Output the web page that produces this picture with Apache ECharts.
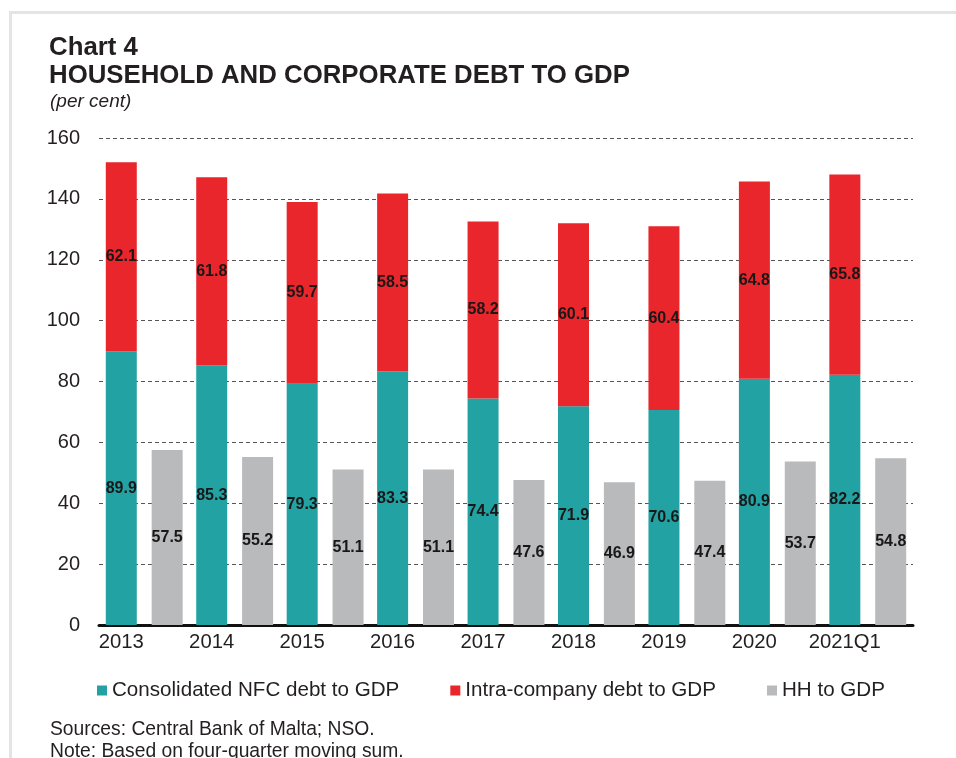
<!DOCTYPE html>
<html>
<head>
<meta charset="utf-8">
<script src="https://cdn.jsdelivr.net/npm/echarts@6/dist/echarts.min.js"></script>
<style>
html,body{margin:0;padding:0;background:#fff;}
#c{width:956px;height:758px;}
</style>
</head>
<body>
<div id="c"></div>
<script>
const categories = ['2013','2014','2015','2016','2017','2018','2019','2020','2021Q1'];
const nfcDebt = [89.9, 85.3, 79.3, 83.3, 74.4, 71.9, 70.6, 80.9, 82.2];
const intraDebt = [62.1, 61.8, 59.7, 58.5, 58.2, 60.1, 60.4, 64.8, 65.8];
const hhDebt = [57.5, 55.2, 51.1, 51.1, 47.6, 46.9, 47.4, 53.7, 54.8];
const seriesNames = ['Consolidated NFC debt to GDP', 'Intra-company debt to GDP', 'HH to GDP'];
const yTicks = { min: 0, max: 160, interval: 20 };

const FONT = '"Liberation Sans", Arial, sans-serif';
const chart = echarts.init(document.getElementById('c'), null, { renderer: 'canvas' });

const labelStyle = {
  show: true,
  position: 'inside',
  fontFamily: FONT,
  fontSize: 16,
  fontWeight: 'bold',
  color: '#1a1718',
  formatter: p => p.value.toFixed(1)
};

chart.setOption({
  animation: false,
  backgroundColor: '#ffffff',
  textStyle: { fontFamily: FONT },
  graphic: [
    { type: 'rect', shape: { x: 10.5, y: 12.5, width: 1200, height: 1200 },
      style: { fill: 'none', stroke: '#e4e4e4', lineWidth: 3 }, silent: true, z: -10 }
  ],
  title: [
    { text: 'Chart 4', left: 49, top: 35, padding: 0,
      textStyle: { fontFamily: FONT, fontSize: 25.8, lineHeight: 26, fontWeight: 'bold', color: '#231f20' } },
    { text: 'HOUSEHOLD AND CORPORATE DEBT TO GDP', left: 49, top: 63, padding: 0,
      textStyle: { fontFamily: FONT, fontSize: 25.8, lineHeight: 26, fontWeight: 'bold', color: '#231f20' } },
    { text: '(per cent)', left: 50, top: 92, padding: 0,
      textStyle: { fontFamily: FONT, fontSize: 19, lineHeight: 19, fontStyle: 'italic', fontWeight: 'normal', color: '#231f20' } },
    { text: 'Sources: Central Bank of Malta; NSO.', left: 50, top: 720, padding: 0,
      textStyle: { fontFamily: FONT, fontSize: 19.3, lineHeight: 19, fontWeight: 'normal', color: '#231f20' } },
    { text: 'Note: Based on four-quarter moving sum.', left: 50, top: 742, padding: 0,
      textStyle: { fontFamily: FONT, fontSize: 19.3, lineHeight: 19, fontWeight: 'normal', color: '#231f20' } }
  ],
  legend: {
    data: seriesNames,
    left: 97,
    top: 680,
    padding: 0,
    itemWidth: 10,
    itemHeight: 10,
    itemGap: 51,
    icon: 'rect',
    textStyle: { fontFamily: FONT, fontSize: 20.6, color: '#231f20', padding: [0, 0, 0, 0] }
  },
  grid: { left: 99, right: 43, top: 138, bottom: 133, containLabel: false },
  xAxis: {
    type: 'category',
    data: categories,
    axisLine: { show: true, lineStyle: { color: '#111', width: 3 } },
    axisTick: { show: false },
    axisLabel: {
      fontFamily: FONT, fontSize: 20.3, color: '#231f20', margin: 7,
      padding: [0, 46, 0, 0], interval: 0
    }
  },
  yAxis: {
    type: 'value',
    min: yTicks.min, max: yTicks.max, interval: yTicks.interval,
    axisLine: { show: false },
    axisTick: { show: false },
    axisLabel: { fontFamily: FONT, fontSize: 20, color: '#231f20', margin: 19 },
    splitLine: { show: true, lineStyle: { color: '#555', type: [4, 3], width: 1 } }
  },
  series: [
    { name: seriesNames[0], type: 'bar', stack: 'corp', data: nfcDebt,
      itemStyle: { color: '#22a2a3' }, label: labelStyle,
      barCategoryGap: '15%', barGap: '48%' },
    { name: seriesNames[1], type: 'bar', stack: 'corp', data: intraDebt,
      itemStyle: { color: '#e8262b' }, label: labelStyle },
    { name: seriesNames[2], type: 'bar', data: hhDebt,
      itemStyle: { color: '#b8babb' }, label: labelStyle }
  ]
});
</script>
</body>
</html>
